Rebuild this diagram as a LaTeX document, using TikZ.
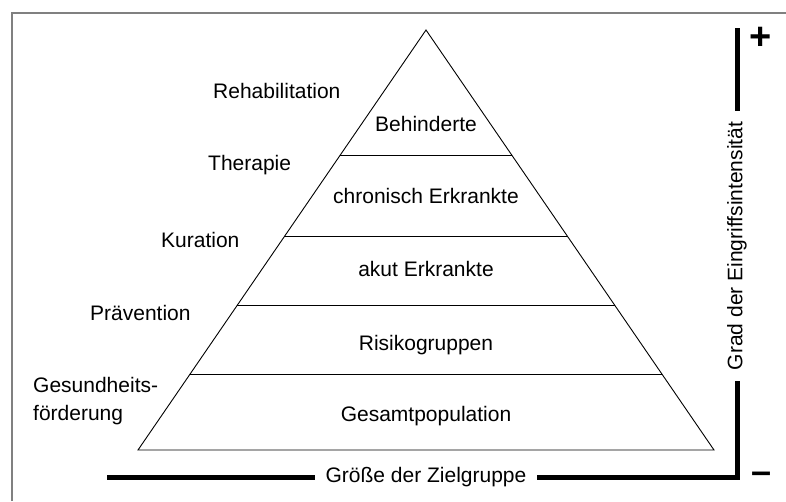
\documentclass[tikz,border=0pt]{standalone}
\usepackage{fontspec}
\setmainfont{Liberation Sans}
\usetikzlibrary{calc, positioning}

\tikzset{
  lbl/.style={font=\fontsize{21}{28}\selectfont, inner sep=0pt},
  axis/.style={line width=5pt, line join=miter},
  axlbl/.style={font=\fontsize{21}{28}\selectfont, inner xsep=11pt, inner ysep=0pt, outer sep=0pt},
}

\begin{document}
\begin{tikzpicture}[x=1pt, y=-1pt]
  \useasboundingbox (0,0) rectangle (786,501);

  % Frame (cut off at the right and bottom)
  \draw[gray, line width=1.5pt] (12,501) -- (12,13) -- (786,13);

  % Pyramid corners
  \coordinate (apex) at (426,30);
  \coordinate (bl) at (138,450);
  \coordinate (br) at (714,450);
  \draw[line width=0.9pt, line join=miter] (apex) -- (bl) -- (br) -- cycle;

  % Layer borders
  \foreach \t [count=\i] in {0.2976, 0.4905, 0.6548, 0.819}{
    \draw[line width=0.9pt] ($(apex)!\t!(bl)$) -- ($(apex)!\t!(br)$);
  }

  % Layer labels
  \node[lbl] (beh) at (426,124) {Behinderte};
  \node[lbl] (chr) at (426,196) {chronisch Erkrankte};
  \node[lbl] (aku) at (426,269) {akut Erkrankte};
  \node[lbl] (ris) at (426,345) {Risikogruppen};
  \node[lbl] (ges) at (426,416) {Gesamtpopulation};

  % Kinds of intervention on the left
  \node[lbl, anchor=west] (reha) at (213,91) {Rehabilitation};
  \node[lbl, anchor=west] (ther) at (208,165) {Therapie};
  \node[lbl, anchor=west] (kur) at (161,240) {Kuration};
  \node[lbl, anchor=west] (prae) at (90,313) {Prävention};
  \node[lbl, anchor=west, align=left] (gesf) at (33,401) {Gesundheits-\\förderung};

  % Axes
  \coordinate (xstart) at (107,477);
  \coordinate (corner) at (737,477);
  \coordinate (ytop) at (737,28);
  \node[axlbl] (xlab) at (426,477) {Größe der Zielgruppe};
  \node[axlbl, rotate=90] (ylab) at (737,246) {Grad der Eingriffsintensität};
  \draw[axis] (xstart) -- (xlab.west);
  \draw[axis] (xlab.east) -- (corner) -- (ylab.west);
  \draw[axis] (ylab.east) -- (ytop);

  % Plus and minus
  \node[font=\fontsize{38}{38}\selectfont\bfseries, inner sep=0pt] (plus) at (761,38) {+};
  \node[font=\fontsize{36}{36}\selectfont\bfseries, inner sep=0pt] (minus) at (761,478) {–};

\end{tikzpicture}
\end{document}
